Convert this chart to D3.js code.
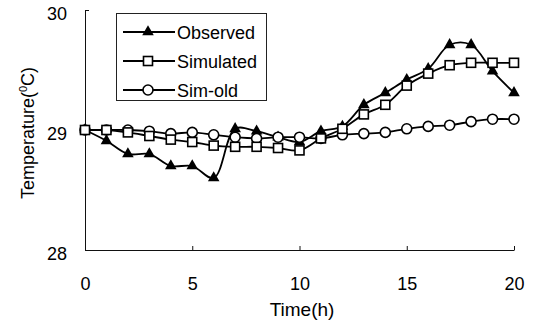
<!DOCTYPE html>
<html>
<head>
<meta charset="utf-8">
<script src="https://cdn.jsdelivr.net/npm/d3@7"></script>
<style>
  html, body { margin: 0; padding: 0; background: #fff; }
  svg { display: block; font-family: "Liberation Sans", Arial, sans-serif; }
</style>
</head>
<body>
<script>
// data
const hours = [0, 1, 2, 3, 4, 5, 6, 7, 8, 9, 10, 11, 12, 13, 14, 15, 16, 17, 18, 19, 20];
const observed = [29.0, 28.91, 28.8, 28.8, 28.7, 28.7, 28.6, 29.01, 28.99, 28.94, 28.9,
  28.99, 29.03, 29.21, 29.31, 29.42, 29.51, 29.71, 29.71, 29.49, 29.31];
const simulated = [29.0, 29.0, 28.98, 28.95, 28.92, 28.9, 28.87, 28.86, 28.86, 28.85, 28.83,
  28.93, 29.01, 29.13, 29.21, 29.37, 29.47, 29.54, 29.56, 29.56, 29.56];
const simOld = [29.0, 29.0, 29.0, 28.99, 28.97, 28.98, 28.96, 28.94, 28.93, 28.94, 28.94,
  28.93, 28.96, 28.97, 28.98, 29.01, 29.03, 29.04, 29.07, 29.09, 29.09];
const seriesNames = ["Observed", "Simulated", "Sim-old"];
const xTicks = [0, 5, 10, 15, 20];
const yTicks = [28, 29, 30];

const width = 536, height = 321;

const svg = d3.select("body").append("svg")
  .attr("width", width)
  .attr("height", height);

const x = d3.scaleLinear().domain([0, 20]).range([85, 514]);
const y = d3.scaleLinear().domain([28, 30]).range([250, 10]);

// axes, ticks point inward
const xAxis = svg.append("g")
  .attr("transform", `translate(0,${y(28)})`)
  .call(d3.axisBottom(x).tickValues(xTicks).tickFormat(d3.format("d"))
    .tickSizeInner(-4).tickSizeOuter(0).tickPadding(27));
const yAxis = svg.append("g")
  .attr("transform", `translate(${x(0)},0)`)
  .call(d3.axisLeft(y).tickValues(yTicks).tickFormat(d3.format("d"))
    .tickSizeInner(-4).tickSizeOuter(0).tickPadding(18));

[xAxis, yAxis].forEach((g) => {
  g.select(".domain").attr("stroke", "#111").attr("stroke-width", 1);
  g.selectAll(".tick line").attr("stroke", "#111");
  g.selectAll(".tick text")
    .attr("fill", "#000")
    .style("font-size", "18px")
    .style("font-family", "'Liberation Sans', Arial, sans-serif");
});
yAxis.selectAll(".tick text").attr("dy", "0.55em");

// axis titles
svg.append("text")
  .attr("x", 302)
  .attr("y", 316)
  .attr("text-anchor", "middle")
  .style("font-size", "19px")
  .text("Time(h)");

const yTitle = svg.append("text")
  .attr("transform", "translate(34,133) rotate(-90)")
  .attr("text-anchor", "middle")
  .style("font-size", "18px");
yTitle.append("tspan").text("Temperature(");
yTitle.append("tspan").attr("dy", -7).style("font-size", "11px").text("0");
yTitle.append("tspan").attr("dy", 7).text("C)");

// series
const line = d3.line()
  .x((d) => x(d[0]))
  .y((d) => y(d[1]))
  .curve(d3.curveCatmullRom.alpha(0.5));

const tri = d3.symbol().type(d3.symbolTriangle).size(58);

function drawMarker(g, kind, cx, cy) {
  if (kind === "tri") {
    g.append("path").attr("d", tri()).attr("transform", `translate(${cx},${cy})`)
      .attr("fill", "#000");
  } else if (kind === "sq") {
    g.append("rect").attr("x", cx - 4.5).attr("y", cy - 4.5)
      .attr("width", 9).attr("height", 9)
      .attr("fill", "#fff").attr("stroke", "#000").attr("stroke-width", 1.6);
  } else {
    g.append("circle").attr("cx", cx).attr("cy", cy).attr("r", 5)
      .attr("fill", "#fff").attr("stroke", "#000").attr("stroke-width", 1.6);
  }
}

const series = [
  { name: seriesNames[0], values: observed, kind: "tri" },
  { name: seriesNames[2], values: simOld, kind: "circ" },
  { name: seriesNames[1], values: simulated, kind: "sq" },
];

series.forEach((s) => {
  const pts = hours.map((h, i) => [h, s.values[i]]);
  const g = svg.append("g");
  g.append("path")
    .attr("d", line(pts))
    .attr("fill", "none")
    .attr("stroke", "#000")
    .attr("stroke-width", 1.8);
  pts.forEach((p) => drawMarker(g, s.kind, x(p[0]), y(p[1])));
});

// legend
const legend = svg.append("g");
legend.append("rect")
  .attr("x", 116.5).attr("y", 13.5)
  .attr("width", 150).attr("height", 87)
  .attr("fill", "#fff")
  .attr("stroke", "#222")
  .attr("stroke-width", 1);

const legendRows = [
  { name: "Observed", kind: "tri", y: 32 },
  { name: "Simulated", kind: "sq", y: 61 },
  { name: "Sim-old", kind: "circ", y: 90 },
];
legendRows.forEach((r) => {
  legend.append("line")
    .attr("x1", 123).attr("x2", 175)
    .attr("y1", r.y).attr("y2", r.y)
    .attr("stroke", "#000").attr("stroke-width", 1.8);
  drawMarker(legend, r.kind, 148, r.y);
  legend.append("text")
    .attr("x", 177)
    .attr("y", r.y + 6.5)
    .style("font-size", "18px")
    .text(r.name);
});
</script>
</body>
</html>
